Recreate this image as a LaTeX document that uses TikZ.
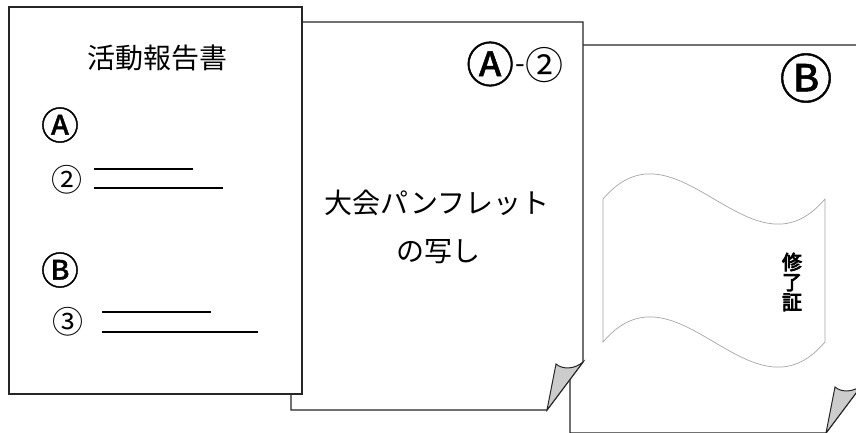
\documentclass[tikz,border=0pt]{standalone}
\usepackage{fontspec}
\setmainfont{Noto Sans CJK JP}
\newfontfamily\jpcircle[FakeBold=1]{Noto Sans CJK JP}
\newfontfamily\jpbold[FakeBold=4]{Noto Sans CJK JP}
\usetikzlibrary{calc}
\tikzset{
  page/.style={line width=1.2pt,draw=black!85},
  curl/.style={line width=1pt,draw=black!85,fill=gray!40},
  banner/.style={line width=0.7pt,draw=gray!70,fill=white},
  underline/.style={line width=2pt,-},
  txt/.style={inner sep=0pt,font=\fontsize{28}{30}\selectfont}
}
\newcommand{\tikzCurlPage}[3]{
  \coordinate (#1nw) at (#2,#3);
  \coordinate (#1se) at ($(#1nw)+(292,388)$);
  \path[page,fill=white] (#1nw) -| ($(#1se)+(0,-48)$) -- ($(#1se)+(-36,0)$) -| (#1nw) -- cycle;
  \path[curl] ($(#1se)+(0,-48)$) .. controls ($(#1se)+(-8,-41)$) and ($(#1se)+(-20,-40)$) .. ($(#1se)+(-27,-46)$) -- ($(#1se)+(-36,0)$) -- cycle;
}

\begin{document}
\begin{tikzpicture}[x=1pt,y=-1pt]
  \useasboundingbox (0,0) rectangle (856,432);
  \clip (0,0) rectangle (856,432);
  % certificate sheet
  \tikzCurlPage{cert}{570}{45}
  \path[banner] (603,199) .. controls (677,112) and (751,286) .. (825,199) -- (825,342) .. controls (751,429) and (677,255) .. (603,342) -- cycle;
  \node [txt,font=\jpcircle\fontsize{53}{53}\selectfont] (certB) at (806,78) {Ⓑ};
  \node [txt,align=center,font=\jpbold\fontsize{20}{20}\selectfont] (certname) at (792,282) {修\\了\\証};
  % pamphlet sheet
  \tikzCurlPage{pamph}{291}{22}
  \node [txt] (pamphlabel) at (515,64) {{\jpcircle\fontsize{48}{48}\selectfont Ⓐ}\kern1pt\raisebox{9pt}{-}\kern1pt\raisebox{3pt}{\fontsize{38}{38}\selectfont ②}};
  \node [txt] (pamph1) at (437,203) {大会パンフレット};
  \node [txt] (pamph2) at (438,252) {の写し};
  % report sheet
  \node [page,fill=white,rectangle,inner sep=0pt,minimum width=293,minimum height=387] (report) at (155.5,200.5) {};
  \node [txt] (title) at (157,58) {活動報告書};
  \node [txt,font=\jpcircle\fontsize{38}{38}\selectfont] (repA) at (60,125) {Ⓐ};
  \node [txt,font=\fontsize{31}{31}\selectfont] (reptwo) at (67,180) {②};
  \node [txt,font=\jpcircle\fontsize{38}{38}\selectfont] (repB) at (60,270) {Ⓑ};
  \node [txt,font=\fontsize{31}{31}\selectfont] (repthree) at (68,322) {③};
  \draw [underline] (94,169) -- (193,169);
  \draw [underline] (94,188) -- (223,188);
  \draw [underline] (102,312) -- (211,312);
  \draw [underline] (102,332) -- (258,332);
\end{tikzpicture}
\end{document}
